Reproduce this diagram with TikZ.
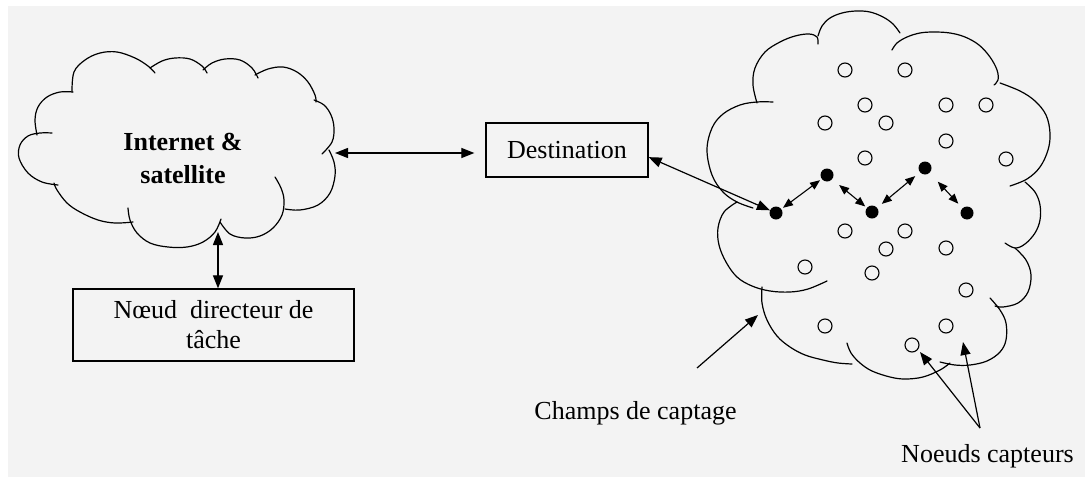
\documentclass[tikz,border=0pt]{standalone}
\usepackage{fontspec}
\setmainfont{Liberation Serif}
\usetikzlibrary{arrows.meta}
\definecolor{paper}{RGB}{243,243,243}
\begin{document}
\begin{tikzpicture}[x=1pt,y=-1pt,
  outline/.style={line width=1.2pt, line cap=round, line join=round},
  puff/.style={outline, smooth, tension=0.6},
  both/.style={{Triangle[length=13pt,width=10pt]}-{Triangle[length=13pt,width=10pt]}, line width=1.2pt},
  one/.style={-{Triangle[length=13pt,width=10pt]}, line width=1.2pt},
  hop/.style={{Triangle[length=10pt,width=8pt]}-{Triangle[length=10pt,width=8pt]}, line width=1.1pt},
  box/.style={draw, line width=1.3pt, rectangle, inner sep=0pt},
  sensor/.style={circle, draw, line width=1.1pt, minimum size=14pt, inner sep=0pt},
  relay/.style={circle, fill=black, minimum size=13pt, inner sep=0pt},
  txt/.style={font=\fontsize{26}{30}\selectfont},
  btxt/.style={font=\fontsize{26}{33}\selectfont\bfseries}
]
% page
\useasboundingbox (0,0) rectangle (1085,477);
\fill[white] (0,0) rectangle (1085,477);
\fill[paper] (8,6) rectangle (1085,477);

% ---------- left cloud: Internet & satellite ----------
\draw[puff] plot coordinates {(72,92) (74,72) (85,60) (100,53) (117,52) (135,58) (148,66) (155,73)};
\draw[puff] plot coordinates {(150,68) (162,61) (175,58) (190,59) (202,66) (207,73)};
\draw[puff] plot coordinates {(203,70) (212,63) (225,59) (240,60) (252,68) (258,78)};
\draw[puff] plot coordinates {(255,75) (268,69) (283,67) (297,72) (308,82) (315,95) (316,102)};
\draw[puff] plot coordinates {(314,100) (324,105) (331,115) (334,128) (332,142) (322,154)};
\draw[puff] plot coordinates {(329,150) (334,162) (335,176) (330,193) (318,205) (300,210) (285,209)};
\draw[puff] plot coordinates {(275,177) (281,188) (284,200) (282,215) (273,228) (260,236) (245,238) (230,234) (220,222)};
\draw[puff] plot coordinates {(221,219) (215,232) (203,242) (187,247) (168,247) (150,243) (137,233) (130,220) (128,208)};
\draw[puff] plot coordinates {(133,222) (115,223) (98,220) (80,212) (67,203) (57,190) (54,183)};
\draw[puff] plot coordinates {(58,185) (42,182) (28,173) (19,158) (20,145) (28,136) (40,133) (52,133)};
\draw[puff] plot coordinates {(37,135) (35,120) (38,107) (47,97) (60,92) (73,92)};
\node[btxt, align=center] (inet) at (183,158) {Internet \&\\satellite};
\coordinate (inetE) at (335,153);
\coordinate (inetS) at (218,232);

% ---------- boxes ----------
\node[box, txt, minimum width=162pt, minimum height=54pt] (dest) at (567,150) {Destination};
\node[box, txt, align=center, minimum width=281pt, minimum height=72pt] (task) at (213.5,325) {Nœud~ directeur de\\tâche};

\draw[both, shorten >=11pt] (inetE) -- (inetE -| dest.west);
\draw[both] (inetS) -- (inetS |- task.north);

% ---------- right cloud: sensing field ----------
\draw[puff] plot coordinates {(827,281) (808,289) (790,292) (770,291) (752,286) (737,277) (726,262) (719,245) (718,228) (724,212) (737,202)};
\draw[puff] plot coordinates {(753,208) (737,202) (723,192) (712,175) (707,150) (712,128) (723,114) (740,105) (757,102) (773,102)};
\draw[puff] plot coordinates {(757,103) (753,85) (755,68) (765,52) (780,42) (795,36) (809,34) (817,37) (818,44)};
\draw[puff] plot coordinates {(818,36) (822,26) (830,18) (842,13) (856,11) (870,12) (883,17) (893,24) (900,33)};
\draw[puff] plot coordinates {(892,50) (897,43) (907,37) (920,33) (934,32) (950,33) (965,37) (979,45) (990,57) (997,70) (998,80) (994,85)};
\draw[puff] plot coordinates {(1000,83) (1020,91) (1035,101) (1046,115) (1050,133) (1048,150) (1040,167) (1027,179) (1010,186)};
\draw[puff] plot coordinates {(1025,182) (1035,192) (1040,205) (1040,220) (1035,233) (1025,244) (1015,248) (1005,243)};
\draw[puff] plot coordinates {(1015,248) (1026,260) (1031,275) (1028,292) (1018,303) (1003,307) (995,306)};
\draw[puff] plot coordinates {(990,298) (1000,310) (1006,323) (1006,340) (1000,352) (987,361) (970,365) (955,365) (940,362)};
\draw[puff] plot coordinates {(950,363) (940,370) (923,377) (905,379) (890,377) (872,371) (860,363) (851,353) (847,343)};
\draw[puff] plot coordinates {(852,364) (838,363) (823,360) (805,355) (790,347) (777,336) (767,320) (762,303) (762,287)};

% sensor nodes
\foreach \n/\p in {1/{(845,70)}, 2/{(905,70)}, 3/{(865,105)}, 4/{(946,105)}, 5/{(986,105)},
                   6/{(825,123)}, 7/{(886,123)}, 8/{(946,141)}, 9/{(1006,159)}, 10/{(865,158)},
                   11/{(845,231)}, 12/{(905,231)}, 13/{(886,249)}, 14/{(946,248)}, 15/{(872,273)},
                   16/{(805,267)}, 17/{(966,290)}, 18/{(825,326)}, 19/{(946,326)}, 20/{(912,345)}}
  \node[sensor] (s\n) at \p {};

% relaying nodes
\node[relay] (A) at (776,213) {};
\node[relay] (B) at (827,175) {};
\node[relay] (C) at (872,212) {};
\node[relay] (D) at (925,168) {};
\node[relay] (E) at (967,213) {};

\draw[both] (dest.-5.6) -- (A);
\draw[hop, shorten <=2pt, shorten >=2pt] (A) -- (B);
\draw[hop, shorten <=9pt, shorten >=2pt] (B) -- (C);
\draw[hop, shorten <=6pt, shorten >=6pt] (C) -- (D);
\draw[hop, shorten <=12pt, shorten >=6pt] (D) -- (E);

% labels
\node[txt] (field) at (635.5,413) {Champs de captage};
\coordinate (fieldfoot) at (697,368);
\coordinate (fieldedge) at (758,315);
\draw[one] (fieldfoot) -- (fieldedge);

\node[txt] (sens) at (987.5,456) {Noeuds capteurs};
\coordinate (fork) at (980,428);
\coordinate (tipa) at (920,352);
\coordinate (tipb) at (963,342);
\draw[one] (fork) -- (tipa);
\draw[one] (fork) -- (tipb);
\end{tikzpicture}
\end{document}
